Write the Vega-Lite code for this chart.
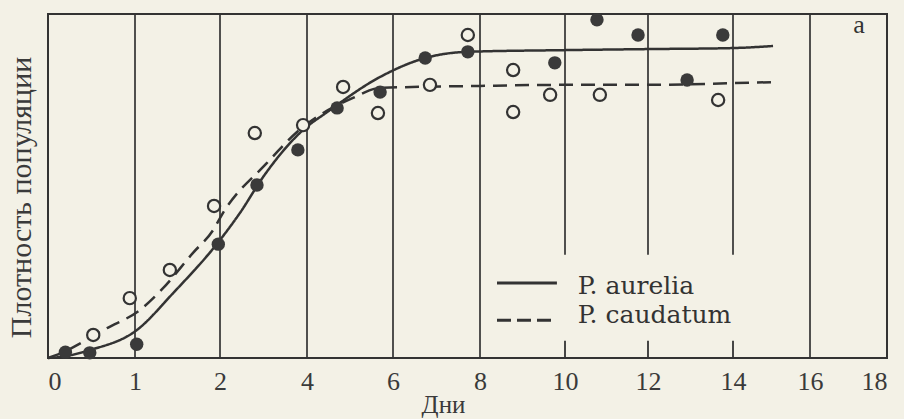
{
  "$schema": "https://vega.github.io/schema/vega-lite/v6.json",
  "autosize": "none",
  "padding": {"left": 48, "top": 14, "right": 17, "bottom": 61},
  "width": 839,
  "height": 344,
  "background": "#f3f1e6",
  "config": {
    "view": {"stroke": "#333333", "strokeWidth": 2},
    "font": "Liberation Serif"
  },
  "datasets": {
    "curves": [
      {"species": "P. aurelia", "day": 0, "density": 0},
      {"species": "P. aurelia", "day": 0.14, "density": 0.3},
      {"species": "P. aurelia", "day": 0.48, "density": 2.3},
      {"species": "P. aurelia", "day": 1.02, "density": 8.1},
      {"species": "P. aurelia", "day": 1.45, "density": 18.9},
      {"species": "P. aurelia", "day": 2.0, "density": 34.3},
      {"species": "P. aurelia", "day": 2.46, "density": 42.2},
      {"species": "P. aurelia", "day": 2.99, "density": 52.6},
      {"species": "P. aurelia", "day": 3.91, "density": 66.3},
      {"species": "P. aurelia", "day": 4.47, "density": 71.5},
      {"species": "P. aurelia", "day": 5.7, "density": 81.7},
      {"species": "P. aurelia", "day": 6.74, "density": 87.2},
      {"species": "P. aurelia", "day": 7.7, "density": 89.0},
      {"species": "P. aurelia", "day": 10, "density": 89.5},
      {"species": "P. aurelia", "day": 12, "density": 89.8},
      {"species": "P. aurelia", "day": 14, "density": 90.1},
      {"species": "P. aurelia", "day": 15.04, "density": 90.7},
      {"species": "P. caudatum", "day": 0, "density": 0},
      {"species": "P. caudatum", "day": 0.1, "density": 0.9},
      {"species": "P. caudatum", "day": 0.68, "density": 8.7},
      {"species": "P. caudatum", "day": 1.06, "density": 14.0},
      {"species": "P. caudatum", "day": 1.33, "density": 20.3},
      {"species": "P. caudatum", "day": 1.68, "density": 30.5},
      {"species": "P. caudatum", "day": 1.92, "density": 37.2},
      {"species": "P. caudatum", "day": 2.07, "density": 42.2},
      {"species": "P. caudatum", "day": 3.08, "density": 56.7},
      {"species": "P. caudatum", "day": 3.77, "density": 65.7},
      {"species": "P. caudatum", "day": 5.07, "density": 75.6},
      {"species": "P. caudatum", "day": 5.7, "density": 78.5},
      {"species": "P. caudatum", "day": 8, "density": 79.1},
      {"species": "P. caudatum", "day": 10, "density": 79.4},
      {"species": "P. caudatum", "day": 12, "density": 79.4},
      {"species": "P. caudatum", "day": 14, "density": 79.9},
      {"species": "P. caudatum", "day": 15.04, "density": 80.2}
    ],
    "points": [
      {"species": "P. aurelia", "day": 0.2, "density": 1.7},
      {"species": "P. aurelia", "day": 0.48, "density": 1.5},
      {"species": "P. aurelia", "day": 1.02, "density": 4.0},
      {"species": "P. aurelia", "day": 1.98, "density": 33.1},
      {"species": "P. aurelia", "day": 2.85, "density": 50.3},
      {"species": "P. aurelia", "day": 3.79, "density": 60.5},
      {"species": "P. aurelia", "day": 4.7, "density": 72.7},
      {"species": "P. aurelia", "day": 5.7, "density": 77.3},
      {"species": "P. aurelia", "day": 6.74, "density": 87.2},
      {"species": "P. aurelia", "day": 7.72, "density": 89.0},
      {"species": "P. aurelia", "day": 9.76, "density": 85.8},
      {"species": "P. aurelia", "day": 10.77, "density": 98.3},
      {"species": "P. aurelia", "day": 11.76, "density": 93.9},
      {"species": "P. aurelia", "day": 12.92, "density": 80.8},
      {"species": "P. aurelia", "day": 13.76, "density": 93.9},
      {"species": "P. caudatum", "day": 0.52, "density": 6.7},
      {"species": "P. caudatum", "day": 0.94, "density": 17.4},
      {"species": "P. caudatum", "day": 1.41, "density": 25.6},
      {"species": "P. caudatum", "day": 1.93, "density": 44.2},
      {"species": "P. caudatum", "day": 2.8, "density": 65.4},
      {"species": "P. caudatum", "day": 3.91, "density": 67.7},
      {"species": "P. caudatum", "day": 4.84, "density": 78.8},
      {"species": "P. caudatum", "day": 5.65, "density": 71.2},
      {"species": "P. caudatum", "day": 6.85, "density": 79.4},
      {"species": "P. caudatum", "day": 7.72, "density": 93.9},
      {"species": "P. caudatum", "day": 8.78, "density": 83.7},
      {"species": "P. caudatum", "day": 8.78, "density": 71.5},
      {"species": "P. caudatum", "day": 9.65, "density": 76.5},
      {"species": "P. caudatum", "day": 10.84, "density": 76.5},
      {"species": "P. caudatum", "day": 13.65, "density": 75.0}
    ],
    "fullgrid": [{"day": 1}, {"day": 2}, {"day": 4}, {"day": 6}, {"day": 8}, {"day": 16}],
    "partgrid": [{"day": 10}, {"day": 12}, {"day": 14}],
    "one": [{}]
  },
  "layer": [
    {
      "data": {"name": "fullgrid"},
      "mark": {"type": "rule", "color": "#333333", "strokeWidth": 1.7},
      "encoding": {
        "x": {"field": "day", "type": "quantitative",
          "scale": {"domain": [0, 1, 2, 4, 6, 8, 10, 12, 14, 16, 18], "range": [0, 87, 172, 259, 345, 432, 517, 600, 685, 762, 839], "nice": false, "zero": false},
          "axis": {"values": [0, 1, 2, 4, 6, 8, 10, 12, 14, 16, 18], "ticks": false, "domain": false, "grid": false,
            "labelFont": "Liberation Serif", "labelFontSize": 26, "labelColor": "#3a3a3a", "labelPadding": 10,
            "title": "Дни", "titleFont": "Liberation Serif", "titleFontSize": 25, "titleFontWeight": "normal", "titleColor": "#3a3a3a",
            "titleX": 395, "titleY": 54, "titleAlign": "center", "titleBaseline": "alphabetic"}},
        "y": {"datum": 0, "type": "quantitative",
          "scale": {"domain": [0, 100], "nice": false, "zero": false},
          "axis": {"labels": false, "ticks": false, "domain": false, "grid": false,
            "title": "Плотность популяции", "titleFont": "Liberation Serif", "titleFontSize": 30, "titleFontWeight": "normal", "titleColor": "#3a3a3a",
            "titleAngle": 270, "titleX": -27, "titleY": 183, "titleAlign": "center", "titleBaseline": "middle"}},
        "y2": {"datum": 100}
      }
    },
    {
      "data": {"name": "partgrid"},
      "mark": {"type": "rule", "color": "#333333", "strokeWidth": 1.7},
      "encoding": {
        "x": {"field": "day", "type": "quantitative", "scale": {"domain": [0, 1, 2, 4, 6, 8, 10, 12, 14, 16, 18], "range": [0, 87, 172, 259, 345, 432, 517, 600, 685, 762, 839], "nice": false, "zero": false}},
        "y": {"datum": 30, "type": "quantitative"},
        "y2": {"datum": 100}
      }
    },
    {
      "data": {"name": "partgrid"},
      "mark": {"type": "rule", "color": "#333333", "strokeWidth": 1.8},
      "encoding": {
        "x": {"field": "day", "type": "quantitative", "scale": {"domain": [0, 1, 2, 4, 6, 8, 10, 12, 14, 16, 18], "range": [0, 87, 172, 259, 345, 432, 517, 600, 685, 762, 839], "nice": false, "zero": false}},
        "y": {"datum": 0, "type": "quantitative"},
        "y2": {"datum": 5}
      }
    },
    {
      "data": {"name": "curves"},
      "mark": {"type": "line", "interpolate": "monotone", "color": "#333333", "strokeWidth": 2.5},
      "encoding": {
        "x": {"field": "day", "type": "quantitative", "scale": {"domain": [0, 1, 2, 4, 6, 8, 10, 12, 14, 16, 18], "range": [0, 87, 172, 259, 345, 432, 517, 600, 685, 762, 839], "nice": false, "zero": false}},
        "y": {"field": "density", "type": "quantitative"},
        "detail": {"field": "species"},
        "strokeDash": {"field": "species", "type": "nominal", "scale": {"domain": ["P. aurelia", "P. caudatum"], "range": [[1, 0], [14, 8]]}, "legend": null}
      }
    },
    {
      "data": {"name": "points"},
      "transform": [{"filter": "datum.species === 'P. aurelia'"}],
      "mark": {"type": "circle", "color": "#3a3a3a", "opacity": 1, "size": 180},
      "encoding": {
        "x": {"field": "day", "type": "quantitative", "scale": {"domain": [0, 1, 2, 4, 6, 8, 10, 12, 14, 16, 18], "range": [0, 87, 172, 259, 345, 432, 517, 600, 685, 762, 839], "nice": false, "zero": false}},
        "y": {"field": "density", "type": "quantitative"}
      }
    },
    {
      "data": {"name": "points"},
      "transform": [{"filter": "datum.species === 'P. caudatum'"}],
      "mark": {"type": "point", "shape": "circle", "filled": false, "fill": "#f3f1e6", "fillOpacity": 1, "stroke": "#333333", "strokeWidth": 2.2, "opacity": 1, "size": 150},
      "encoding": {
        "x": {"field": "day", "type": "quantitative", "scale": {"domain": [0, 1, 2, 4, 6, 8, 10, 12, 14, 16, 18], "range": [0, 87, 172, 259, 345, 432, 517, 600, 685, 762, 839], "nice": false, "zero": false}},
        "y": {"field": "density", "type": "quantitative"}
      }
    },
    {
      "data": {"name": "one"},
      "mark": {"type": "rule", "color": "#333333", "strokeWidth": 3},
      "encoding": {
        "x": {"datum": 8.4, "type": "quantitative"},
        "x2": {"datum": 9.81},
        "y": {"datum": 21.8, "type": "quantitative"}
      }
    },
    {
      "data": {"name": "one"},
      "mark": {"type": "rule", "color": "#333333", "strokeWidth": 3, "strokeDash": [14, 6]},
      "encoding": {
        "x": {"datum": 8.4, "type": "quantitative"},
        "x2": {"datum": 9.81},
        "y": {"datum": 11.0, "type": "quantitative"}
      }
    },
    {
      "data": {"name": "one"},
      "mark": {"type": "text", "font": "DejaVu Serif", "fontSize": 25, "color": "#333333", "align": "left", "baseline": "alphabetic"},
      "encoding": {
        "x": {"datum": 10.31, "type": "quantitative"},
        "y": {"datum": 18.6, "type": "quantitative"},
        "text": {"value": "P.  aurelia"}
      }
    },
    {
      "data": {"name": "one"},
      "mark": {"type": "text", "font": "DejaVu Serif", "fontSize": 25, "color": "#333333", "align": "left", "baseline": "alphabetic"},
      "encoding": {
        "x": {"datum": 10.31, "type": "quantitative"},
        "y": {"datum": 10.2, "type": "quantitative"},
        "text": {"value": "P. caudatum"}
      }
    },
    {
      "data": {"name": "one"},
      "mark": {"type": "text", "font": "Liberation Serif", "fontSize": 26, "color": "#333333", "align": "center", "baseline": "alphabetic"},
      "encoding": {
        "x": {"datum": 17.27, "type": "quantitative"},
        "y": {"datum": 94.5, "type": "quantitative"},
        "text": {"value": "a"}
      }
    }
  ]
}
